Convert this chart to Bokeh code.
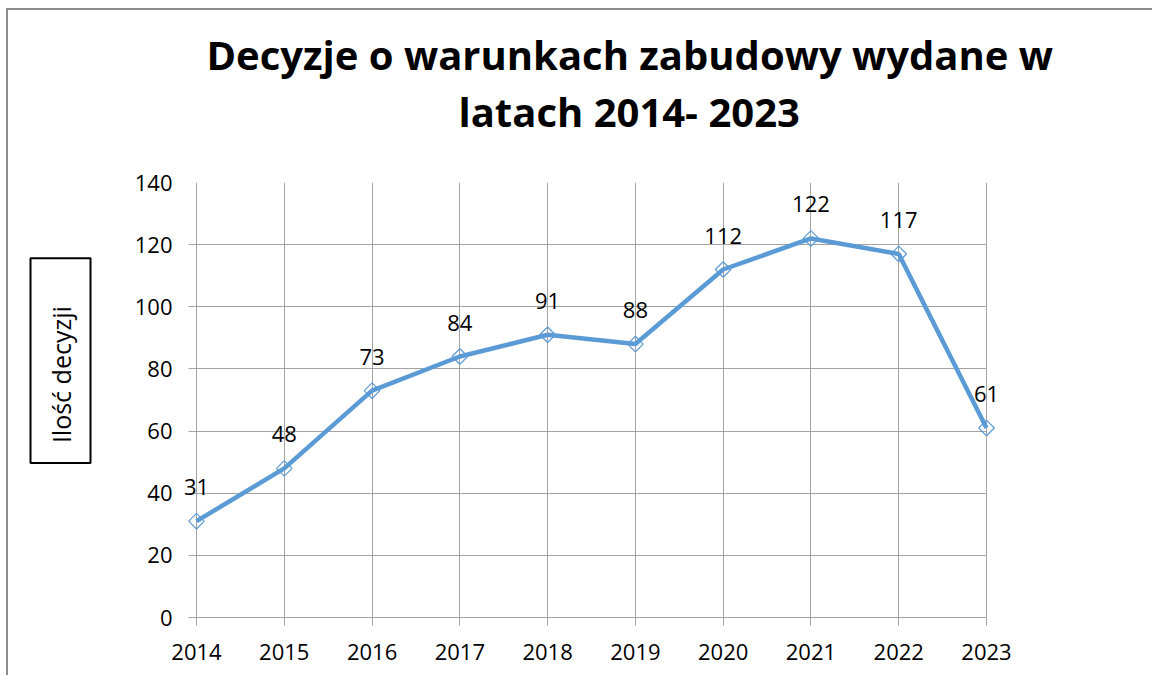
import math
from bokeh.plotting import figure
from bokeh.layouts import row
from bokeh.models import ColumnDataSource, LabelSet, Label, Title, FixedTicker
from bokeh.core.properties import value
from bokeh.embed import file_html
from bokeh.resources import INLINE

years = [2014, 2015, 2016, 2017, 2018, 2019, 2020, 2021, 2022, 2023]
decisions = [31, 48, 73, 84, 91, 88, 112, 122, 117, 61]
labels = [str(v) for v in decisions]
title_line1 = "Decyzje o warunkach zabudowy wydane w"
title_line2 = "latach 2014- 2023"
y_label = "Ilość decyzji"
y_ticks = [0, 20, 40, 60, 80, 100, 120, 140]

FONT = "Open Sans"
GRID = "#a3a3a3"
BLUE = "#5B9BD5"
PX_PER_YEAR = 790 / 9.0
PAD = 14 / PX_PER_YEAR
TICK = 8 / PX_PER_YEAR
H = 665
LW = 100

src = ColumnDataSource(dict(x=years, y=decisions, t=labels))

# narrow figure holding the boxed y-axis label
lf = figure(width=LW, height=H, output_backend="svg", toolbar_location=None,
            x_range=(0, LW), y_range=(0, H), x_axis_type=None, y_axis_type=None,
            min_border=0, title=None)
lf.outline_line_color = None
lf.grid.visible = False
lf.background_fill_color = "white"
lf.border_fill_color = "white"
lf.add_layout(Label(x=52, y=236, text=y_label, angle=math.pi / 2,
                    text_align="left", text_baseline="middle", text_font=FONT,
                    text_font_size="25px", text_color="black",
                    border_line_color="black", border_line_width=2,
                    padding=dict(left=20, right=48, top=13, bottom=13)))

p = figure(width=1152 - 8 - LW, height=H, output_backend="svg", toolbar_location=None,
           title=None,
           x_range=(years[0] - PAD, years[-1] + PAD), y_range=(0, 140),
           min_border_left=174 - LW, min_border_right=152, min_border_top=172, min_border_bottom=58)
p.outline_line_color = None
p.background_fill_color = "white"
p.border_fill_color = "white"

p.xaxis.ticker = FixedTicker(ticks=years)
p.yaxis.ticker = FixedTicker(ticks=y_ticks)
p.xaxis.bounds = (years[0] - TICK, years[-1])
for ax in (p.xaxis, p.yaxis):
    ax.axis_line_color = GRID
    ax.major_tick_line_color = GRID
    ax.minor_tick_line_color = None
    ax.major_tick_in = 0
    ax.major_tick_out = 8
    ax.major_label_text_font = FONT
    ax.major_label_text_font_size = "22px"
    ax.major_label_text_color = "black"
p.yaxis.axis_line_color = None
p.yaxis.major_tick_line_color = None
p.yaxis.major_tick_out = 0
p.xaxis.major_label_standoff = 18
p.yaxis.major_label_standoff = 10

p.xgrid.ticker = FixedTicker(ticks=years)
p.ygrid.ticker = FixedTicker(ticks=y_ticks)
p.xgrid.grid_line_color = GRID
p.ygrid.grid_line_color = GRID
p.ygrid.cross_bounds = (years[0] - TICK, years[-1])

p.line("x", "y", source=src, line_width=4.5, line_color=BLUE)
p.scatter("x", "y", source=src, marker="square", angle=math.pi / 4, size=11,
          fill_color=None, line_color=BLUE, line_width=1.2)

p.add_layout(LabelSet(x="x", y="y", text="t", source=src, y_offset=34,
                      text_align="center", text_baseline="middle",
                      text_font=value(FONT), text_font_size="22px", text_color="black"))

# invisible spacer between frame and title
p.add_layout(Title(text=".", text_font=FONT, text_font_size="10px", text_color="white",
                   standoff=34), "above")
p.add_layout(Title(text=title_line2, align="left", offset=276, text_font=FONT,
                   text_font_style="bold", text_font_size="40px", text_color="black",
                   standoff=0), "above")
p.add_layout(Title(text=title_line1, align="left", offset=24, text_font=FONT,
                   text_font_style="bold", text_font_size="40px", text_color="black",
                   standoff=0), "above")

layout = row(lf, p, styles={"border-top": "2px solid #8c8c8c", "border-left": "2px solid #8c8c8c",
                            "margin-left": "6px", "margin-top": "8px"})

open("out.html", "w").write(file_html(layout, INLINE))
